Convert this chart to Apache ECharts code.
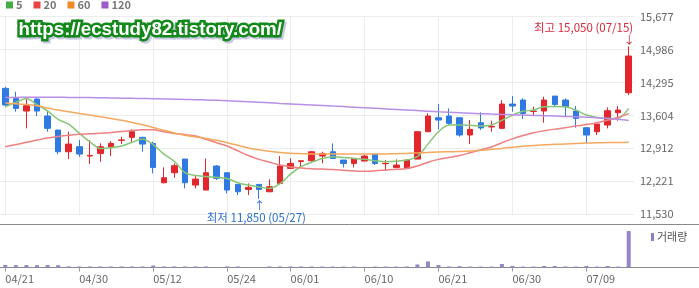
<!DOCTYPE html>
<html><head><meta charset="utf-8">
<script src="https://cdn.jsdelivr.net/npm/echarts/dist/echarts.min.js"></script>
<style>html,body{margin:0;padding:0;background:#fff}#c{width:699px;height:288px}</style>
</head><body><div id="c"></div>
<script>
const dates = ['04/21','04/22','04/23','04/24','04/25','04/28','04/29','04/30','05/02','05/05',
  '05/06','05/07','05/08','05/09','05/12','05/13','05/14','05/16','05/19','05/20',
  '05/22','05/24','05/25','05/26','05/27','05/28','05/30','06/01','06/02','06/03',
  '06/04','06/05','06/07','06/09','06/10','06/11','06/13','06/15','06/17','06/18',
  '06/19','06/21','06/23','06/24','06/25','06/26','06/27','06/28','06/30','07/01',
  '07/02','07/03','07/04','07/06','07/07','07/09','07/10','07/11','07/14','07/15'];
const opens  = [14171,13961,13695,13947,13590,13296,12840,12945,12750,12805,12945,13080,13142,13142,13015,12189,12399,12686,12140,12035,12539,12399,12154,12049,12154,11999,12175,12490,12637,12651,12749,12840,12665,12595,12644,12791,12588,12511,12490,12686,13261,13555,13590,13555,13191,13450,13360,13331,13842,13926,13688,13695,14010,13926,13695,13345,13261,13401,13660,14080];
const closes = [13821,13751,13807,13695,13331,12840,13001,12791,12763,12945,13015,13088,13261,13001,12511,12294,12546,12189,12266,12399,12280,12035,11999,12091,12049,12105,12539,12595,12651,12840,12805,12700,12595,12700,12749,12595,12595,12560,12665,13261,13590,13506,13436,13191,13310,13340,13375,13842,13800,13646,13695,13926,13835,13786,13541,13191,13422,13702,13716,14851];
const lows   = [13800,13681,13331,13590,13261,12791,12686,12735,12581,12630,12750,13001,13030,12840,12385,12175,12294,12070,12070,12035,12245,11965,11930,11930,11850,11999,12175,12490,12511,12630,12595,12686,12511,12511,12644,12560,12441,12490,12490,12686,13261,13310,13401,13156,13002,13300,13261,13331,13681,13527,13590,13450,13800,13576,13345,13015,13191,13331,13492,14031];
const highs  = [14205,14101,13961,13961,13702,13296,13261,13085,13085,13015,13065,13155,13310,13155,13050,12511,12595,12686,12329,12700,12560,12399,12154,12175,12154,12259,12749,12700,12651,12854,12840,13015,12665,12700,12770,12791,12665,12679,12679,13261,13646,13842,13751,13555,13506,13670,13492,13926,14010,13961,13786,13996,14010,13961,13800,13345,13422,13772,13800,15050];
const ma5   = [13786,13880,13960,13830,13700,13520,13420,13230,13050,12910,12925,12960,13040,13110,12990,12790,12640,12400,12340,12320,12300,12280,12190,12140,12100,12070,12170,12370,12530,12620,12700,12735,12720,12700,12680,12650,12630,12640,12665,12740,13000,13260,13400,13400,13395,13380,13400,13500,13610,13690,13716,13786,13790,13786,13716,13611,13560,13541,13545,13751];
const ma20  = [12945,12990,13040,13085,13130,13160,13185,13205,13220,13230,13245,13265,13285,13300,13300,13260,13225,13200,13170,13100,13030,12960,12860,12760,12680,12620,12560,12520,12500,12485,12475,12465,12450,12435,12430,12440,12455,12470,12490,12540,12620,12680,12720,12760,12820,12880,12940,13030,13110,13180,13240,13280,13315,13345,13380,13410,13450,13500,13560,13640];
const ma60  = [13865,13850,13830,13805,13760,13715,13680,13645,13610,13575,13540,13500,13455,13405,13350,13290,13235,13185,13150,13120,13080,13030,12975,12920,12880,12850,12825,12808,12800,12795,12792,12790,12790,12790,12790,12792,12795,12800,12805,12815,12825,12835,12840,12845,12855,12870,12890,12910,12935,12955,12970,12985,12995,13005,13015,13022,13028,13032,13035,13038];
const ma120 = [13980,13982,13984,13985,13985,13984,13982,13980,13977,13974,13970,13966,13962,13958,13954,13950,13945,13940,13934,13928,13920,13910,13900,13890,13880,13868,13856,13845,13834,13823,13812,13800,13788,13776,13764,13752,13740,13728,13716,13704,13692,13680,13670,13660,13650,13640,13632,13625,13618,13611,13604,13597,13590,13582,13574,13565,13555,13540,13522,13495];
const volumes = [250,230,240,230,240,230,110,100,100,100,100,100,100,100,200,100,100,100,100,100,50,100,100,50,50,100,100,100,100,100,90,90,90,90,60,90,90,90,100,300,600,250,100,130,90,90,90,350,160,90,90,150,150,100,90,150,90,150,90,3600];
const yTickLabels = ['11,530','12,221','12,912','13,604','14,295','14,986','15,677'];
const tickIdx = [0,7,14,21,27,34,41,48,55];
const legendNames = ['5','20','60','120'];
const highInfo = {date:'07/15', value:15050, text:'최고 15,050 (07/15)'};
const lowInfo  = {date:'05/27', value:11850, text:'최저 11,850 (05/27)'};

const candles = dates.map((d,i)=>[opens[i],closes[i],lows[i],highs[i]]);
const showTick = (i)=>tickIdx.indexOf(i)>=0;
const UP='#e2262b', DOWN='#2f79e2';
const FONT='"Noto Sans CJK KR","Noto Sans",sans-serif';
const WM_FONT='"Liberation Sans",Arial,sans-serif';

const chart = echarts.init(document.getElementById('c'), null, {renderer:'canvas'});
function ma(name, data, col, lineCol){
  return {name, type:'line', xAxisIndex:0, yAxisIndex:0, data, smooth:0.3, showSymbol:false, symbol:'none',
    itemStyle:{color:col}, lineStyle:{color:lineCol, width:1.5}, z:3, silent:true};
}
chart.setOption({
  animation:false,
  legend:{data:legendNames, left:6, top:-0.5, padding:0, icon:'rect', itemWidth:7, itemHeight:7, itemGap:11,
    selectedMode:false, textStyle:{fontSize:11, fontWeight:'bold', color:'#777', fontFamily:FONT, padding:[0,0,0,-2]}},
  grid:[{left:0, right:65, top:16.7, height:197.4},{left:0, right:65, top:228, height:39.5}],
  xAxis:[
    {type:'category', gridIndex:0, data:dates, boundaryGap:true, axisLine:{show:false}, axisTick:{show:false}, axisLabel:{show:false},
      splitLine:{show:true, interval:showTick, alignWithLabel:true, lineStyle:{color:'#ececec', width:1}}},
    {type:'category', gridIndex:1, data:dates, boundaryGap:true, axisLine:{show:false},
      axisTick:{show:true, alignWithLabel:true, interval:showTick, length:4, lineStyle:{color:'#999'}},
      axisLabel:{show:true, interval:showTick, align:'left', color:'#666', fontSize:11, margin:6, fontFamily:FONT},
      splitLine:{show:false}}
  ],
  yAxis:[
    {type:'value', gridIndex:0, min:11530, max:15677, position:'right', axisLabel:{show:false}, splitLine:{show:false}, axisLine:{show:false}, axisTick:{show:false}},
    {type:'value', gridIndex:0, min:0, max:6, interval:1, position:'right',
      axisLabel:{formatter:(v)=>yTickLabels[v], color:'#666', fontSize:11, margin:6, fontFamily:FONT},
      splitLine:{show:true, lineStyle:{color:'#ececec', width:1}}, axisLine:{show:false}, axisTick:{show:false}},
    {type:'value', gridIndex:1, min:0, max:3900, show:false, splitLine:{show:false}}
  ],
  series:[
    {name:'K', type:'candlestick', xAxisIndex:0, yAxisIndex:0, data:candles, barWidth:6, clip:false,
      itemStyle:{color:UP, color0:DOWN, borderColor:UP, borderColor0:DOWN, borderWidth:1},
      markPoint:{silent:true, symbol:'circle', symbolSize:1, itemStyle:{color:'rgba(0,0,0,0)'},
        data:[
          {coord:[highInfo.date, highInfo.value], label:{show:true, formatter:highInfo.text, position:[5,-18], align:'right', verticalAlign:'middle', color:'#d8283a', fontSize:11.5, fontFamily:FONT}},
          {coord:[highInfo.date, highInfo.value], label:{show:true, formatter:'↓', position:[1,-6], align:'center', verticalAlign:'middle', color:'#d8283a', fontSize:11, fontFamily:FONT}},
          {coord:[lowInfo.date, lowInfo.value], label:{show:true, formatter:lowInfo.text, position:[-2,19.5], align:'center', verticalAlign:'middle', color:'#2c6fd2', fontSize:11.5, fontFamily:FONT}},
          {coord:[lowInfo.date, lowInfo.value], label:{show:true, formatter:'↑', position:[1,7.5], align:'center', verticalAlign:'middle', color:'#2c6fd2', fontSize:11, fontFamily:FONT}}
        ]}},
    ma(legendNames[0], ma5, '#46ac46', '#86c676'),
    ma(legendNames[1], ma20, '#e84444', '#ef8080'),
    ma(legendNames[2], ma60, '#f08a24', '#f5a95e'),
    ma(legendNames[3], ma120, '#9b5bc8', '#b88ee6'),
    {name:'거래량', type:'bar', xAxisIndex:1, yAxisIndex:2, data:volumes, barWidth:4, itemStyle:{color:'#9686c8'}, silent:true}
  ],
  graphic:[
    {type:'line', shape:{x1:0,y1:224.5,x2:699,y2:224.5}, style:{stroke:'#8a8a8a', lineWidth:1}, silent:true},
    {type:'line', shape:{x1:0,y1:267.5,x2:699,y2:267.5}, style:{stroke:'#8a8a8a', lineWidth:1}, silent:true},
    {type:'rect', shape:{x:651,y:233,width:3,height:8}, style:{fill:'#8f7fc0'}, silent:true},
    {type:'text', style:{x:657, y:237, text:'거래량', fontSize:11, fill:'#555', fontFamily:FONT, verticalAlign:'middle'}, silent:true},
    {type:'text', z:10, style:{x:20.5, y:32, text:'https://ecstudy82.tistory.com/', fontSize:18.7, fontWeight:'bold', fontFamily:WM_FONT,
      fill:'#c9c8e6', stroke:'#c9c8e6', lineWidth:5, verticalAlign:'middle', strokeFirst:true}, silent:true},
    {type:'text', z:11, style:{x:18.5, y:29.5, text:'https://ecstudy82.tistory.com/', fontSize:18.7, fontWeight:'bold', fontFamily:WM_FONT,
      fill:'#ffffff', stroke:'#13891a', lineWidth:5, verticalAlign:'middle', strokeFirst:true}, silent:true}
  ]
});
</script></body></html>
